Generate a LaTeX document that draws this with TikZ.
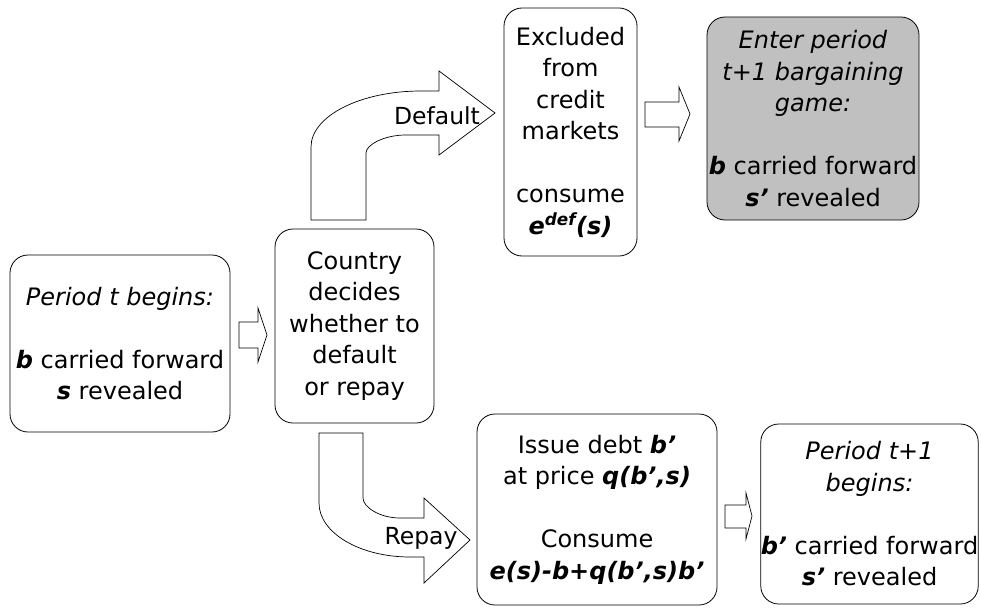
\documentclass[tikz,border=0pt]{standalone}
\usepackage{fontspec}
\setmainfont{DejaVu Sans}
\newcommand\bvar[1]{\textbf{\textit{#1}}}
\definecolor{boxgray}{RGB}{192,192,192}
\tikzset{
  box/.style={draw, rounded corners=18pt, line width=0.8pt, align=center, inner sep=0pt,
    font=\fontsize{24}{31.5}\selectfont},
  blk/.style={draw, line width=0.7pt, fill=white, line join=miter},
  lbl/.style={inner sep=0pt, font=\fontsize{23.5}{28}\selectfont}
}
\begin{document}
\begin{tikzpicture}[x=1pt,y=-1pt]
\useasboundingbox (0,0) rectangle (981,607);
% boxes
\node[box, minimum width=220pt, minimum height=177pt] (b1) at (120,343.5)
  {\textit{Period t begins:}\\[31.5pt]\bvar{b} carried forward\\\bvar{s} revealed};
\node[box, minimum width=159pt, minimum height=194pt] (b2) at (354.5,326)
  {Country\\decides\\whether to\\default\\or repay};
\node[box, minimum width=133pt, minimum height=248pt] (b3) at (570.5,132)
  {Excluded\\from\\credit\\markets\\[31.5pt]consume\\\bvar{e\textsuperscript{def}(s)}};
\node[box, fill=boxgray, minimum width=212pt, minimum height=203pt] (b4) at (813,118.5)
  {\textit{Enter period}\\\textit{t+1 bargaining}\\\textit{game:}\\[31.5pt]\bvar{b} carried forward\\\bvar{s’} revealed};
\node[box, minimum width=240pt, minimum height=191pt] (b5) at (597,509.5)
  {Issue debt \bvar{b’}\\at price \bvar{q(b’,s)}\\[31.5pt]Consume\\\bvar{e(s)-b+q(b’,s)b’}};
\node[box, minimum width=217pt, minimum height=180pt] (b6) at (869.5,514)
  {\textit{Period t+1}\\\textit{begins:}\\[31.5pt]\bvar{b’} carried forward\\\bvar{s’} revealed};
% small block arrows
\draw[blk] (239,322) -- (258,322) -- (258,308) -- (267,335) -- (258,362) -- (258,348) -- (239,348) -- cycle;
\draw[blk] (645,102) -- (679,102) -- (679,87) -- (690,114) -- (679,141) -- (679,127) -- (645,127) -- cycle;
\draw[blk] (725,505) -- (746,505) -- (746,493) -- (752,516) -- (746,539) -- (746,528) -- (725,528) -- cycle;
% default bent arrow
\draw[blk] (311,220) -- (311,147) .. controls (311,116.1) and (360.2,91) .. (421,91)
  -- (439,91) -- (439,71) -- (495,113) -- (439,155) -- (439,135) -- (406,135)
  .. controls (383.9,135) and (366,144.9) .. (366,153) -- (366,220) -- cycle;
% repay bent arrow
\draw[blk] (319,433) -- (319,503) .. controls (319,532.8) and (359.7,557) .. (410,557)
  -- (424,557) -- (424,583) -- (470,540) -- (424,498) -- (424,518) -- (400,518)
  .. controls (379.6,518) and (363,507) .. (363,498) -- (363,433) -- cycle;
\node[lbl] (dl) at (437,116) {Default};
\node[lbl] (rl) at (421,538) {Repay};
\end{tikzpicture}
\end{document}
